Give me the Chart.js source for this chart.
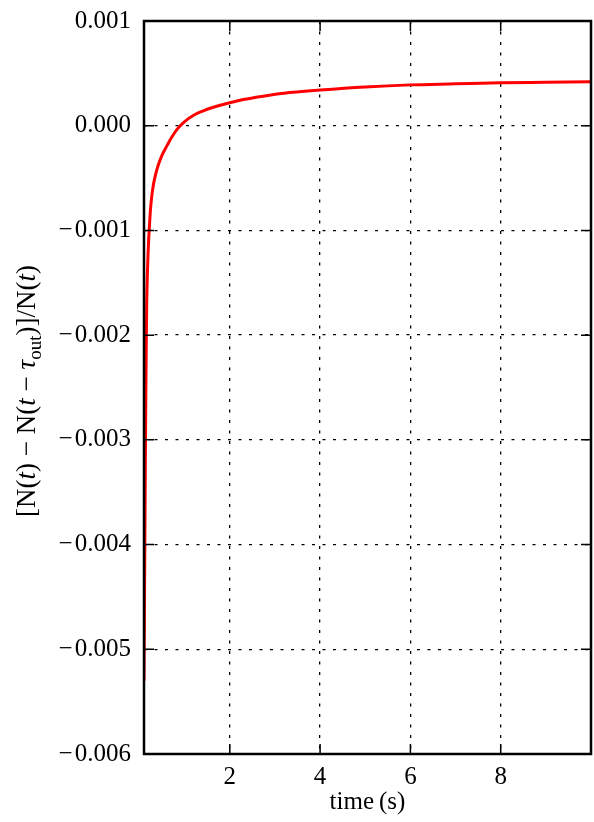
<!DOCTYPE html>
<html>
<head>
<meta charset="utf-8">
<script src="https://cdn.jsdelivr.net/npm/chart.js@4"></script>
<style>
  html, body { margin: 0; padding: 0; background: #fff; }
  #wrap { width: 594px; height: 822px; position: relative; }
</style>
</head>
<body>
<div id="wrap"><canvas id="c"></canvas></div>
<script>
// values
const tempo = [0.1, 0.11, 0.12, 0.13, 0.14, 0.15, 0.16, 0.18, 0.2, 0.215, 0.24, 0.27, 0.31, 0.36, 0.42, 0.5, 0.61, 0.7, 0.84, 1.0, 1.2, 1.4, 1.6, 2, 2.3, 2.7, 3.2, 4, 5, 6, 7, 8, 9, 10];
const razao = [-0.0053, -0.0046, -0.0039, -0.0032, -0.0026, -0.0021, -0.0017, -0.00135, -0.00112, -0.0010, -0.00082, -0.00068, -0.00056, -0.00046, -0.00037, -0.00028, -0.00019, -0.00012, -0.00003, 0.00004, 0.0001, 0.00014, 0.000172, 0.00022, 0.00025, 0.00028, 0.00031, 0.00034, 0.00037, 0.00039, 0.0004, 0.00041, 0.000415, 0.00042];
const xticks = [2, 4, 6, 8];
const yticks = [-0.006, -0.005, -0.004, -0.003, -0.002, -0.001, 0.0, 0.001];

const fonte = '"Liberation Serif", "DejaVu Serif", serif';

const pontos = tempo.map((t, i) => ({x: t, y: razao[i]}));

// ticks para dentro nos quatro lados + moldura preta
const moldura = {
  id: 'moldura',
  afterDraw(chart) {
    const ctx = chart.ctx;
    const a = chart.chartArea;
    const sx = chart.scales.x, sy = chart.scales.y;
    const L = 10;
    ctx.save();
    ctx.strokeStyle = '#000';
    ctx.lineWidth = 1.5;
    ctx.beginPath();
    xticks.forEach(v => {
      const px = sx.getPixelForValue(v);
      ctx.moveTo(px, a.bottom); ctx.lineTo(px, a.bottom - L);
      ctx.moveTo(px, a.top); ctx.lineTo(px, a.top + L);
    });
    yticks.forEach(v => {
      const py = sy.getPixelForValue(v);
      ctx.moveTo(a.left, py); ctx.lineTo(a.left + L, py);
      ctx.moveTo(a.right, py); ctx.lineTo(a.right - L, py);
    });
    ctx.stroke();
    ctx.lineWidth = 2.5;
    ctx.strokeRect(a.left, a.top, a.right - a.left, a.bottom - a.top);
    ctx.restore();
  }
};

// rotulo do eixo y, com t italico e subscrito
const rotulo = {
  id: 'rotulo',
  afterDraw(chart) {
    const ctx = chart.ctx;
    const partes = [
      ['[N(', 'n'], ['t', 'i'], [') \u2212 N(', 'n'], ['t', 'i'], [' \u2212 ', 'n'],
      ['\u03c4', 'i'], ['out', 's'], [')]/N(', 'n'], ['t', 'i'], [')', 'n']
    ];
    const f = t => t === 'i' ? 'italic 27px ' + fonte : (t === 's' ? '19px ' + fonte : '27px ' + fonte);
    let total = 0;
    partes.forEach(p => { ctx.font = f(p[1]); total += ctx.measureText(p[0]).width; });
    ctx.save();
    ctx.translate(35, 391);
    ctx.rotate(-Math.PI / 2);
    ctx.fillStyle = '#000';
    ctx.textBaseline = 'alphabetic';
    let x = -total / 2;
    partes.forEach(p => {
      ctx.font = f(p[1]);
      ctx.fillText(p[0], x, p[1] === 's' ? 6 : 0);
      x += ctx.measureText(p[0]).width;
    });
    ctx.restore();
  }
};

new Chart(document.getElementById('c'), {
  type: 'line',
  data: {
    datasets: [{
      data: pontos,
      borderColor: '#ff0000',
      borderWidth: 3,
      pointRadius: 0,
      cubicInterpolationMode: 'monotone',
      fill: false
    }]
  },
  options: {
    responsive: true,
    maintainAspectRatio: false,
    animation: false,
    layout: { padding: { left: 0, top: 21, right: 3, bottom: 0 } },
    plugins: { legend: { display: false }, tooltip: { enabled: false } },
    scales: {
      x: {
        type: 'linear',
        min: 0.1,
        max: 10,
        afterBuildTicks: s => { s.ticks = xticks.map(v => ({value: v})); },
        afterFit: s => { s.height = 68; s.paddingLeft = 0; s.paddingRight = 0; },
        grid: { color: '#000', lineWidth: 1.3, drawTicks: false },
        border: { display: false, dash: [3, 7.5] },
        ticks: { color: '#000', padding: 8, font: { family: fonte, size: 25 }, maxRotation: 0, callback: v => String(v) },
        title: { display: true, text: 'time\u2009(s)', color: '#000', font: { family: fonte, size: 25 }, padding: { top: 0, bottom: 5 } }
      },
      y: {
        type: 'linear',
        min: -0.006,
        max: 0.001,
        afterBuildTicks: s => { s.ticks = yticks.map(v => ({value: v})); },
        afterFit: s => { s.width = 144; s.paddingTop = 0; s.paddingBottom = 0; },
        grid: { color: '#000', lineWidth: 1.3, drawTicks: false },
        border: { display: false, dash: [3, 7.5] },
        ticks: {
          color: '#000', padding: 13, font: { family: fonte, size: 25 },
          callback: v => v.toFixed(3).replace('-', '\u2212\u200a')
        }
      }
    }
  },
  plugins: [moldura, rotulo]
});
</script>
</body>
</html>
